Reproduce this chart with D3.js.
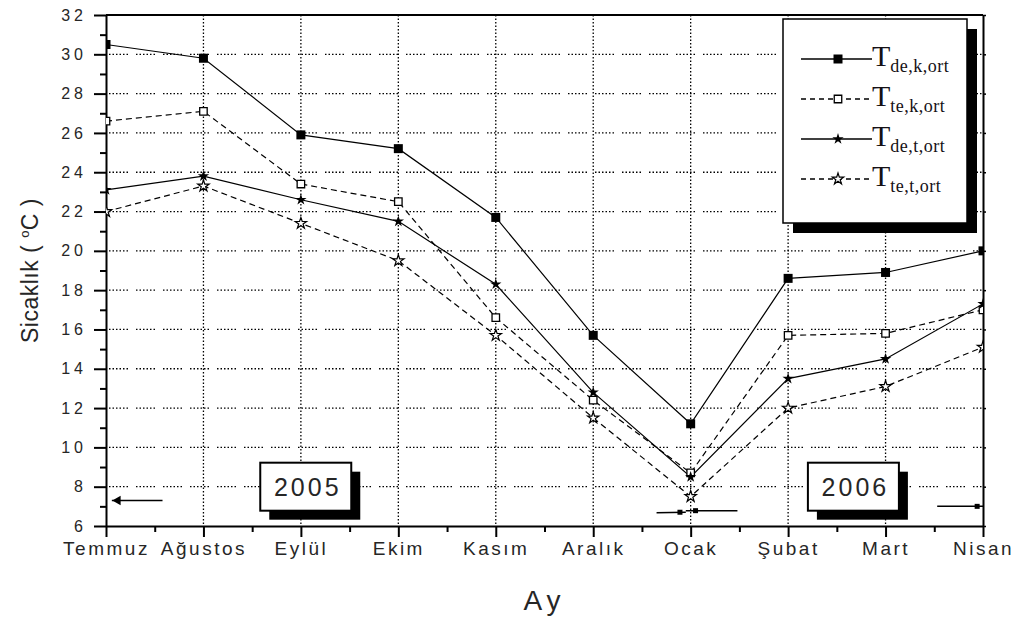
<!DOCTYPE html>
<html>
<head>
<meta charset="utf-8">
<script src="https://cdn.jsdelivr.net/npm/d3@7"></script>
<style>
  body { margin: 0; background: #fff; }
  text { font-family: Arial, "Liberation Sans", sans-serif; fill: #262626; }
  .legend-text { font-family: "Liberation Serif", "Times New Roman", serif; fill: #151015; }
</style>
</head>
<body>
<div id="chart"></div>
<script>
const months = ["Temmuz", "Ağustos", "Eylül", "Ekim", "Kasım", "Aralık", "Ocak", "Şubat", "Mart", "Nisan"];

const tdeKort = [30.5, 29.8, 25.9, 25.2, 21.7, 15.7, 11.2, 18.6, 18.9, 20.0];
const teKort  = [26.6, 27.1, 23.4, 22.5, 16.6, 12.4, 8.7, 15.7, 15.8, 17.0];
const tdeTort = [23.1, 23.8, 22.6, 21.5, 18.3, 12.8, 8.5, 13.5, 14.5, 17.3];
const teTort  = [22.0, 23.3, 21.4, 19.5, 15.7, 11.5, 7.5, 12.0, 13.1, 15.1];

const seriesNames = ["de,k,ort", "te,k,ort", "de,t,ort", "te,t,ort"];
const yTicks = d3.range(6, 33, 2);
const yMinor = d3.range(7, 32, 2);
const yearLabels = ["2005", "2006"];
const yearAt = [2.05, 7.67];

// small stray marks near the bottom (index units, °C)
const strayLines = [
  { x0: 0.06, x1: 0.58, v0: 7.3, v1: 7.3 },
  { x0: 5.65, x1: 5.95, v0: 6.68, v1: 6.7 },
  { x0: 5.95, x1: 6.48, v0: 6.78, v1: 6.78 },
  { x0: 8.53, x1: 9.04, v0: 7.0, v1: 7.0 }
];
const strayDots = [
  { x: 5.89, v: 6.7 }, { x: 6.05, v: 6.78 }, { x: 8.94, v: 7.0 }
];

const W = 1027, H = 626;
const margin = { top: 15, right: 44, bottom: 100, left: 106 };
const innerW = W - margin.left - margin.right;
const innerH = H - margin.top - margin.bottom;

const svg = d3.select("#chart").append("svg")
  .attr("width", W).attr("height", H);

const x = d3.scalePoint().domain(months).range([margin.left, margin.left + innerW]);
const xi = d3.scaleLinear().domain([0, months.length - 1]).range([margin.left, margin.left + innerW]);
const y = d3.scaleLinear().domain([6, 32]).range([margin.top + innerH, margin.top]);

svg.append("defs").append("clipPath").attr("id", "plot-clip")
  .append("rect")
  .attr("x", margin.left).attr("y", margin.top)
  .attr("width", innerW).attr("height", innerH);

// grid
const gridH = "1.5 2 1.5 2 1.5 2 1.5 2 1.5 2 1.5 8";
svg.append("g").selectAll("line")
  .data(yTicks.filter(v => v > 6 && v < 32))
  .join("line")
  .attr("x1", margin.left + 3).attr("x2", margin.left + innerW)
  .attr("y1", d => y(d)).attr("y2", d => y(d))
  .attr("stroke", "#000").attr("stroke-width", 1.3)
  .attr("stroke-dasharray", gridH);

svg.append("g").selectAll("line")
  .data(months.slice(1, -1))
  .join("line")
  .attr("x1", d => x(d)).attr("x2", d => x(d))
  .attr("y1", margin.top).attr("y2", margin.top + innerH)
  .attr("stroke", "#000").attr("stroke-width", 1.3)
  .attr("stroke-dasharray", "1.5 2");

// axes
const xAxis = svg.append("g")
  .attr("transform", `translate(0, ${margin.top + innerH})`)
  .call(d3.axisBottom(x).tickSize(11).tickSizeOuter(0));
xAxis.select(".domain").attr("stroke-width", 2);
xAxis.selectAll(".tick line").attr("stroke-width", 2);
xAxis.selectAll("text")
  .attr("y", 16)
  .style("font-size", "19px")
  .style("letter-spacing", "2.5px");

const xMinor = svg.append("g")
  .attr("transform", `translate(0, ${margin.top + innerH})`)
  .call(d3.axisBottom(xi).tickValues(d3.range(0.5, months.length - 1, 1)).tickSize(6).tickFormat(""));
xMinor.select(".domain").remove();
xMinor.selectAll(".tick line").attr("stroke-width", 2);

const yAxis = svg.append("g")
  .attr("transform", `translate(${margin.left}, 0)`)
  .call(d3.axisLeft(y).tickValues(yTicks).tickSize(12).tickSizeOuter(0));
yAxis.select(".domain").attr("stroke-width", 2);
yAxis.selectAll(".tick line").attr("stroke-width", 2);
yAxis.selectAll("text")
  .attr("x", -19)
  .style("font-size", "16px")
  .style("letter-spacing", "4px");

const yMinorAxis = svg.append("g")
  .attr("transform", `translate(${margin.left}, 0)`)
  .call(d3.axisLeft(y).tickValues(yMinor).tickSize(6).tickFormat(""));
yMinorAxis.select(".domain").remove();
yMinorAxis.selectAll(".tick line").attr("stroke-width", 2);

// top and right frame
svg.append("line")
  .attr("x1", margin.left).attr("x2", margin.left + innerW)
  .attr("y1", margin.top).attr("y2", margin.top)
  .attr("stroke", "#000").attr("stroke-width", 2);
const rightAxis = svg.append("g")
  .attr("transform", `translate(${margin.left + innerW}, 0)`)
  .call(d3.axisLeft(y).tickValues(yTicks).tickSize(3).tickSizeOuter(0).tickFormat(""));
rightAxis.select(".domain").attr("stroke-width", 2);
rightAxis.selectAll(".tick line").attr("transform", "scale(-1,1)").attr("stroke-width", 1.5);

// series
const series = [
  { values: tdeKort, dash: null, marker: "fsq" },
  { values: teKort, dash: "6 4", marker: "osq" },
  { values: tdeTort, dash: null, marker: "fstar" },
  { values: teTort, dash: "6 4", marker: "ostar" }
];

function drawMarker(g, type) {
  if (type === "fsq") {
    g.append("path").attr("d", d3.symbol(d3.symbolSquare, 81)()).attr("fill", "#000");
  } else if (type === "osq") {
    g.append("path").attr("d", d3.symbol(d3.symbolSquare, 56)())
      .attr("fill", "#fff").attr("stroke", "#000").attr("stroke-width", 1.3);
  } else if (type === "fstar") {
    g.append("path").attr("d", d3.symbol(d3.symbolStar, 40)()).attr("fill", "#000");
  } else {
    g.append("path").attr("d", d3.symbol(d3.symbolStar, 40)())
      .attr("fill", "#fff").attr("stroke", "#000").attr("stroke-width", 1.2);
  }
}

const plot = svg.append("g").attr("clip-path", "url(#plot-clip)");
const line = d3.line().x((d, i) => x(months[i])).y(d => y(d));

series.forEach(s => {
  plot.append("path")
    .datum(s.values)
    .attr("d", line)
    .attr("fill", "none")
    .attr("stroke", "#000")
    .attr("stroke-width", 1.2)
    .attr("stroke-dasharray", s.dash);
});
series.forEach(s => {
  s.values.forEach((v, i) => {
    const g = plot.append("g").attr("transform", `translate(${x(months[i])}, ${y(v)})`);
    drawMarker(g, s.marker);
  });
});

// stray marks
plot.selectAll(".stray")
  .data(strayLines)
  .join("line")
  .attr("x1", d => xi(d.x0)).attr("x2", d => xi(d.x1))
  .attr("y1", d => y(d.v0)).attr("y2", d => y(d.v1))
  .attr("stroke", "#000").attr("stroke-width", 1.5);
plot.selectAll(".stray-dot")
  .data(strayDots)
  .join("path")
  .attr("d", d3.symbol(d3.symbolSquare, 25)())
  .attr("transform", d => `translate(${xi(d.x)}, ${y(d.v)})`)
  .attr("fill", "#000");
plot.append("path")
  .attr("d", d3.symbol(d3.symbolTriangle, 40)())
  .attr("transform", `translate(${xi(strayLines[0].x0) + 6}, ${y(strayLines[0].v0)}) rotate(-90)`)
  .attr("fill", "#000");

// year boxes
const boxW = 91, boxH = 48, shadow = 9;
yearLabels.forEach((label, i) => {
  const cx = xi(yearAt[i]);
  const cy = y(8);
  const g = svg.append("g");
  g.append("rect")
    .attr("x", cx - boxW / 2 + shadow).attr("y", cy - boxH / 2 + shadow)
    .attr("width", boxW).attr("height", boxH)
    .attr("fill", "#000");
  g.append("rect")
    .attr("x", cx - boxW / 2).attr("y", cy - boxH / 2)
    .attr("width", boxW).attr("height", boxH)
    .attr("fill", "#fff").attr("stroke", "#000").attr("stroke-width", 2);
  g.append("text")
    .attr("x", cx + 2).attr("y", cy + 9)
    .attr("text-anchor", "middle")
    .style("font-size", "25px")
    .style("letter-spacing", "3px")
    .text(label);
});

// legend
const lg = svg.append("g").attr("transform", "translate(783, 19)");
lg.append("rect").attr("x", 10).attr("y", 10).attr("width", 184).attr("height", 204).attr("fill", "#000");
lg.append("rect").attr("width", 184).attr("height", 204)
  .attr("fill", "#fff").attr("stroke", "#000").attr("stroke-width", 1.5);

series.forEach((s, i) => {
  const row = lg.append("g").attr("transform", `translate(0, ${40 + i * 40})`);
  row.append("line")
    .attr("x1", 18).attr("x2", 89)
    .attr("stroke", "#000").attr("stroke-width", 1.5)
    .attr("stroke-dasharray", s.dash ? "5 4" : null);
  drawMarker(row.append("g").attr("transform", "translate(55, 0)"), s.marker);
  const t = row.append("text").attr("class", "legend-text").attr("x", 89).attr("y", 7);
  t.append("tspan").style("font-size", "30px").text("T");
  t.append("tspan").attr("dy", 6).style("font-size", "18px").style("letter-spacing", "0.5px").text(seriesNames[i]);
});

// axis titles
svg.append("text")
  .attr("x", margin.left + innerW / 2)
  .attr("y", 610)
  .attr("text-anchor", "middle")
  .style("font-size", "28px")
  .style("letter-spacing", "5px")
  .text("Ay");

const ty = svg.append("text")
  .attr("transform", `translate(38, ${margin.top + innerH / 2}) rotate(-90)`)
  .attr("text-anchor", "middle")
  .style("font-size", "23px")
  .style("letter-spacing", "0.5px");
ty.append("tspan").text("Sicaklık  ( ");
ty.append("tspan").attr("dy", -9).style("font-size", "13px").text("o");
ty.append("tspan").attr("dy", 9).text("C )");
</script>
</body>
</html>
